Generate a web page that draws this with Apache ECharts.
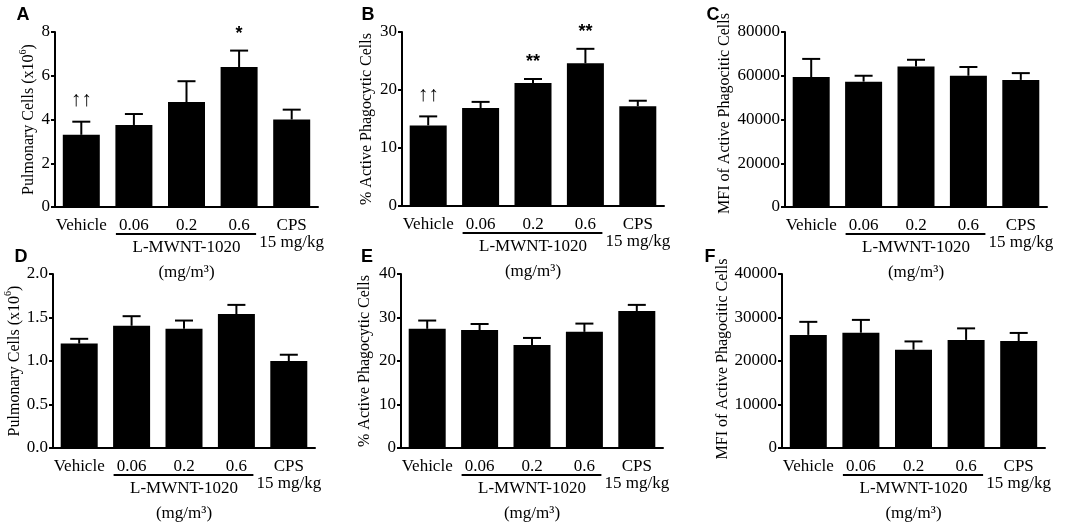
<!DOCTYPE html>
<html>
<head>
<meta charset="utf-8">
<script src="https://cdn.jsdelivr.net/npm/echarts@6/dist/echarts.min.js"></script>
<style>
html, body { margin: 0; padding: 0; background: #fff; }
#main { width: 1065px; height: 525px; }
</style>
</head>
<body>
<div id="main"></div>
<script>
// categories shared by all six panels
var categories = ['Vehicle', '0.06', '0.2', '0.6', 'CPS\n15 mg/kg'];

// A - pulmonary cells (x10^6), top row
var aMean = [3.3, 3.75, 4.8, 6.4, 4.0];
var aSem = [0.6, 0.5, 0.95, 0.75, 0.45];
var aMarks = ['↑↑', '', '', '*', ''];
// B - % active phagocytic cells
var bMean = [13.9, 16.9, 21.2, 24.6, 17.2];
var bSem = [1.55, 1.05, 0.7, 2.5, 0.95];
var bMarks = ['↑↑', '', '**', '**', ''];
// C - MFI of active phagocitic cells
var cMean = [59400, 57300, 64200, 60000, 58100];
var cSem = [8300, 2700, 3100, 4000, 3100];
// D - pulmonary cells, bottom row
var dMean = [1.2, 1.405, 1.37, 1.54, 1.0];
var dSem = [0.055, 0.11, 0.095, 0.105, 0.072];
// E
var eMean = [27.4, 27.1, 23.7, 26.7, 31.5];
var eSem = [1.9, 1.4, 1.6, 1.9, 1.4];
// F
var fMean = [26000, 26500, 22600, 24850, 24600];
var fSem = [3000, 2950, 1900, 2650, 1850];

var yMax = [8, 30, 80000, 2, 40, 40000];
var yStep = [2, 10, 20000, 0.5, 10, 10000];
var letters = ['A', 'B', 'C', 'D', 'E', 'F'];

var SERIF = '"Liberation Serif", "DejaVu Serif", serif';
var SANS = '"Liberation Sans", Arial, sans-serif';

var panels = [
	{mean: aMean, sem: aSem, marks: aMarks, name: '{t|Pulmonary Cells (x10}{s|6}{t|)}', gap: 18, pad: 0,
		grid: {left: 55, top: 32, width: 263, height: 175}},
	{mean: bMean, sem: bSem, marks: bMarks, name: '{t|% Active Phagocytic Cells}', gap: 27, pad: 0,
		grid: {left: 402, top: 32, width: 262, height: 174}},
	{mean: cMean, sem: cSem, marks: null, name: '{t|MFI of Active Phagocitic Cells}', gap: 52, pad: 12,
		grid: {left: 785, top: 32, width: 262, height: 175}},
	{mean: dMean, sem: dSem, marks: null, name: '{t|Pulmonary Cells (x10}{s|6}{t|)}', gap: 28, pad: 0,
		grid: {left: 53, top: 274, width: 262, height: 174}},
	{mean: eMean, sem: eSem, marks: null, name: '{t|% Active Phagocytic Cells}', gap: 28, pad: 0,
		grid: {left: 401, top: 274, width: 262, height: 174}},
	{mean: fMean, sem: fSem, marks: null, name: '{t|MFI of Active Phagocitic Cells}', gap: 44, pad: 4,
		grid: {left: 782, top: 274, width: 263, height: 174}}
];

var chart = echarts.init(document.getElementById('main'));

function errorRender(marks){
	return function(params, api){
		var i = api.value(0), m = api.value(1), s = api.value(2);
		var p0 = api.coord([i, m]);
		var p1 = api.coord([i, m + s]);
		var kids = [
			{type: 'line', shape: {x1: p0[0], y1: p0[1], x2: p1[0], y2: p1[1]}, style: {stroke: '#000', lineWidth: 2}},
			{type: 'line', shape: {x1: p1[0] - 9, y1: p1[1], x2: p1[0] + 9, y2: p1[1]}, style: {stroke: '#000', lineWidth: 2}}
		];
		var mk = marks ? marks[params.dataIndex] : '';
		if (mk) {
			var star = mk.indexOf('*') >= 0;
			kids.push({type: 'text', style: {
				x: p1[0], y: p1[1] - (star ? 17 : 21), text: mk,
				textAlign: 'center', textVerticalAlign: 'middle',
				fontFamily: star ? SANS : SERIF, fontWeight: star ? 'bold' : 'normal',
				fontSize: star ? 18 : 21, fill: '#000'
			}});
		}
		return {type: 'group', children: kids};
	};
}

var grids = [], xAxes = [], yAxes = [], series = [];
panels.forEach(function(p, k){
	grids.push(p.grid);
	xAxes.push({
		type: 'category', gridIndex: k, data: categories,
		axisLine: {lineStyle: {color: '#000', width: 2}},
		axisTick: {alignWithLabel: true, length: 5, lineStyle: {color: '#000', width: 2}},
		axisLabel: {color: '#000', fontFamily: SERIF, fontSize: 17, lineHeight: 17, margin: 10, interval: 0}
	});
	yAxes.push({
		type: 'value', gridIndex: k, min: 0, max: yMax[k], interval: yStep[k],
		splitLine: {show: false},
		axisLine: {show: true, lineStyle: {color: '#000', width: 2}},
		axisTick: {show: true, length: 4, lineStyle: {color: '#000', width: 2}},
		axisLabel: {color: '#000', fontFamily: SERIF, fontSize: 17, margin: 5,
			formatter: k == 3 ? function(v){ return v.toFixed(1); } : function(v){ return String(v); }},
		name: p.name, nameLocation: 'middle', nameGap: p.gap,
		nameTextStyle: {padding: [0, 0, 0, p.pad], rich: {
			t: {fontFamily: SERIF, fontSize: 16, color: '#000', lineHeight: 19, verticalAlign: 'bottom'},
			s: {fontFamily: SERIF, fontSize: 10, color: '#000', lineHeight: 19, verticalAlign: 'top'}
		}}
	});
	series.push({
		type: 'bar', xAxisIndex: k, yAxisIndex: k, data: p.mean,
		barWidth: 37, itemStyle: {color: '#000'}, silent: true, animation: false
	});
	series.push({
		type: 'custom', xAxisIndex: k, yAxisIndex: k, z: 3, silent: true, animation: false,
		renderItem: errorRender(p.marks),
		data: p.mean.map(function(m, i){ return [i, m, p.sem[i]]; })
	});
});

chart.setOption({
	animation: false,
	grid: grids, xAxis: xAxes, yAxis: yAxes, series: series
});

// group bracket under 0.06-0.6, the label text and panel letters
var extras = [];
panels.forEach(function(p, k){
	var x1 = chart.convertToPixel({xAxisIndex: k}, 1) - 18;
	var x3 = chart.convertToPixel({xAxisIndex: k}, 3) + 17;
	var xm = chart.convertToPixel({xAxisIndex: k}, 2);
	var y0 = chart.convertToPixel({yAxisIndex: k}, 0);
	extras.push({type: 'line', shape: {x1: x1, y1: y0 + 27, x2: x3, y2: y0 + 27}, style: {stroke: '#000', lineWidth: 2}});
	extras.push({type: 'text', x: xm, y: y0 + 41, style: {text: 'L-MWNT-1020', font: '17px ' + SERIF, fill: '#000', align: 'center', verticalAlign: 'middle'}});
	extras.push({type: 'text', x: xm, y: y0 + 66, style: {text: '(mg/m³)', font: '17px ' + SERIF, fill: '#000', align: 'center', verticalAlign: 'middle'}});
	extras.push({type: 'text', x: p.grid.left - (k % 3 == 0 ? 32 : (k % 3 == 1 ? 34 : 72)), y: p.grid.top - 17,
		style: {text: letters[k], font: 'bold 18px ' + SANS, fill: '#000', align: 'center', verticalAlign: 'middle'}});
});
chart.setOption({graphic: extras});

window.onresize = function(){ chart.resize(); };
</script>
</body>
</html>
